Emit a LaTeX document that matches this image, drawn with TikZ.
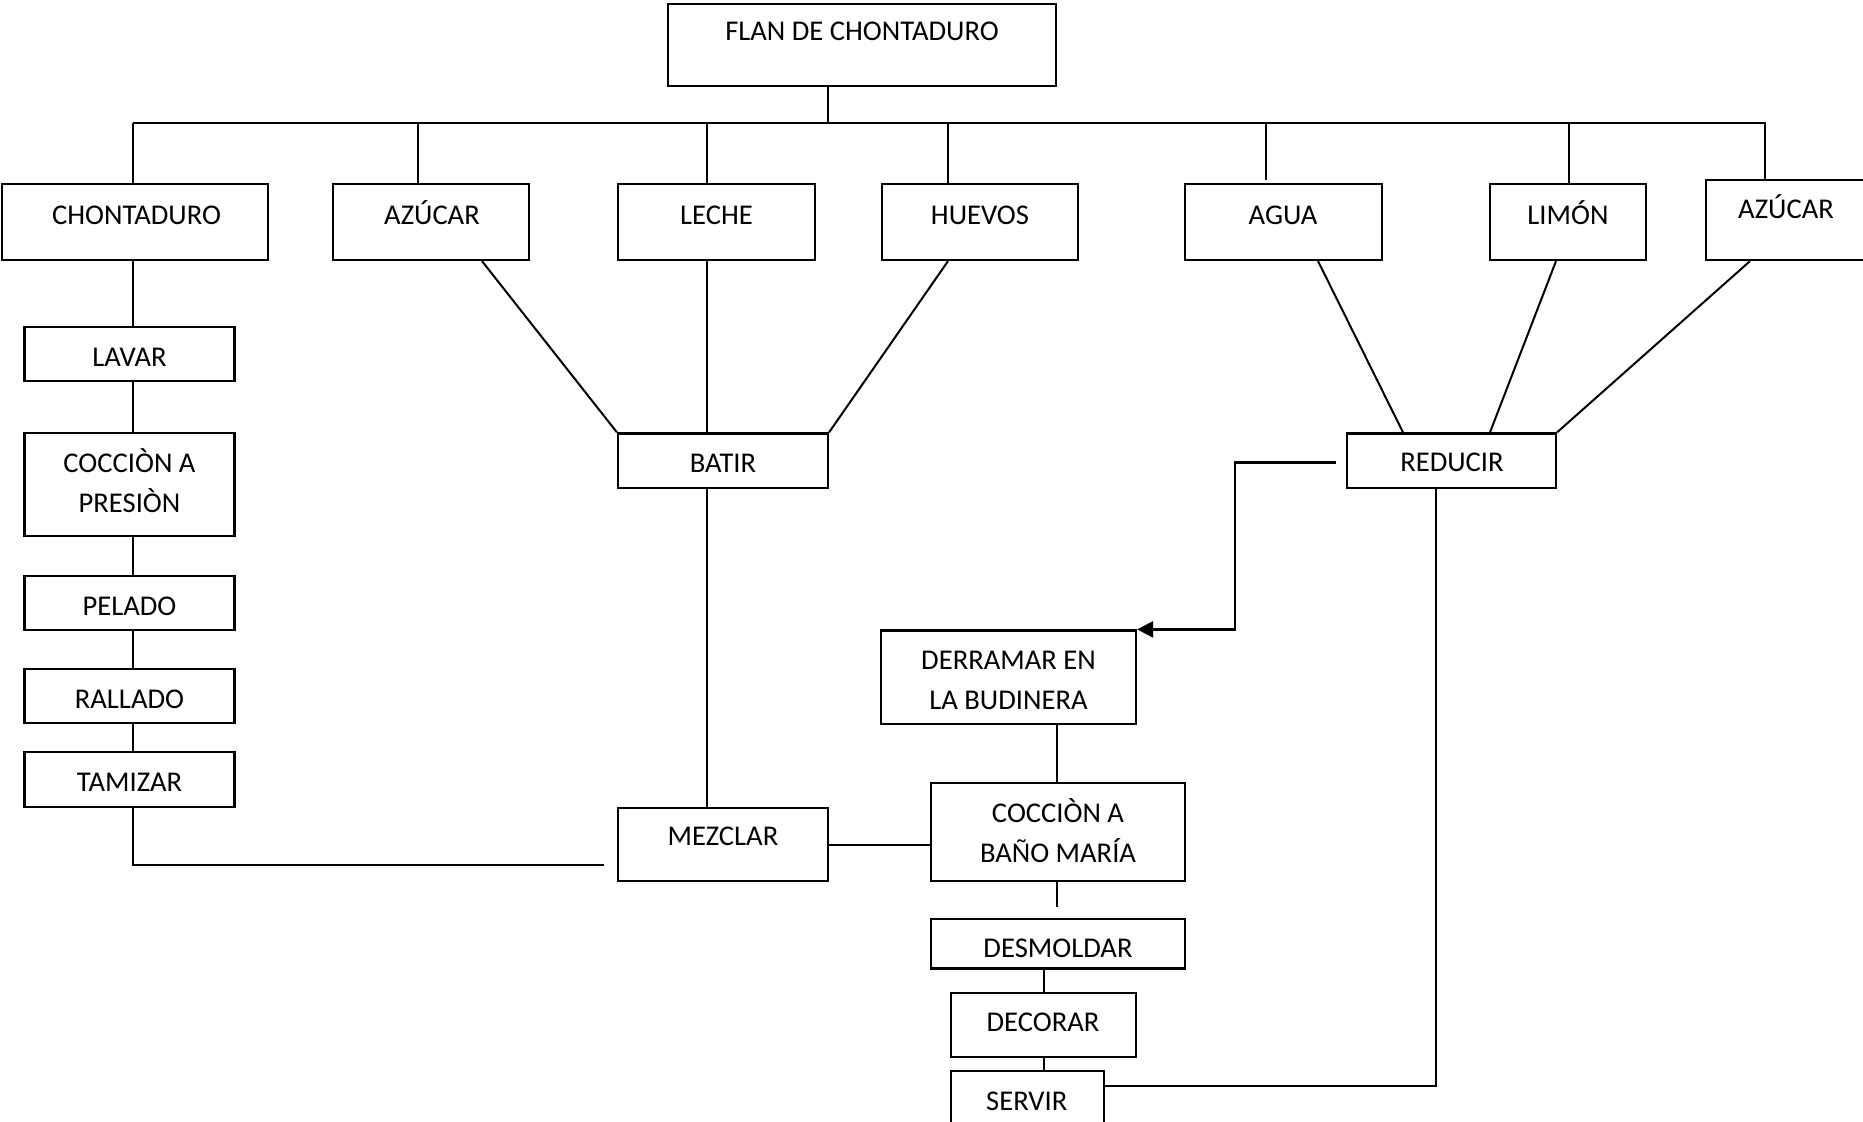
\documentclass[tikz,border=0pt]{standalone}
\usepackage{fontspec}
\setmainfont{Carlito}
\usetikzlibrary{fit,arrows.meta}

\tikzset{
  box/.style={draw, rectangle, line width=1.1pt, inner sep=0pt},
  lbl/.style={anchor=base, inner sep=0pt, font=\fontsize{14.3pt}{20pt}\selectfont},
  link/.style={line width=1pt},
}

% box given by its corners, one line of text placed by its baseline
\newcommand\flowbox[8]{%
  \node[box, fit={(#2,#3) (#4,#5)}] (#1) {};
  \node[lbl] (#1-t) at (#6,#7) {#8};}
% same with two lines of text
\newcommand\flowboxtwo[9]{%
  \node[box, fit={(#2,#3) (#4,#5)}] (#1) {};
  \node[lbl] (#1-t) at (#6,#7) {#8};
  \node[lbl] (#1-u) at (#6,#7+40.7) {#9};}

\begin{document}
\begin{tikzpicture}[x=0.5pt,y=-0.5pt]
\useasboundingbox (0,0) rectangle (1863,1121);

% title and ingredients
\flowbox{root}{668}{4}{1056}{86}{862}{40.7}{FLAN DE CHONTADURO}
\flowbox{chonta}{2}{184}{268}{260}{136.6}{224}{CHONTADURO}
\flowbox{azucarA}{333}{184}{529}{260}{432}{224}{AZÚCAR}
\flowbox{leche}{618}{184}{815}{260}{716.5}{224}{LECHE}
\flowbox{huevos}{882}{184}{1078}{260}{980}{224}{HUEVOS}
\flowbox{agua}{1185}{184}{1382}{260}{1283}{224}{AGUA}
\flowbox{limon}{1490}{184}{1646}{260}{1568}{224}{LIMÓN}
\flowbox{azucarB}{1706}{179.7}{1880}{260}{1786}{218}{AZÚCAR}

% preparation of the fruit
\flowbox{lavar}{24.5}{327}{234.5}{381}{129.5}{366}{LAVAR}
\flowboxtwo{cocA}{24.5}{433}{234.5}{536}{129.5}{472}{COCCIÒN A}{PRESIÒN}
\flowbox{pelado}{24.5}{576}{234.5}{630}{129.5}{615}{PELADO}
\flowbox{rallado}{24.5}{669}{234.5}{723}{129.5}{708}{RALLADO}
\flowbox{tamizar}{24.5}{752}{234.5}{807}{129.5}{791.6}{TAMIZAR}

% mixing, baking and serving
\flowbox{batir}{618}{433.4}{828}{487.7}{723}{472}{BATIR}
\flowbox{mezclar}{618}{807.7}{828}{881}{723}{845.5}{MEZCLAR}
\flowboxtwo{derramar}{881}{630.5}{1136}{724}{1008.5}{669}{DERRAMAR EN}{LA BUDINERA}
\flowboxtwo{cocB}{931}{783}{1185}{881}{1058}{822}{COCCIÒN A}{BAÑO MARÍA}
\flowbox{desmoldar}{931}{918.8}{1185}{968.4}{1058}{957.5}{DESMOLDAR}
\flowbox{decorar}{951}{993}{1136}{1056.7}{1043}{1031}{DECORAR}
\flowbox{servir}{951}{1071}{1104}{1135}{1026.8}{1110}{SERVIR}

% caramel
\flowbox{reducir}{1347}{433.4}{1556}{487.7}{1452}{471.7}{REDUCIR}

% branching bus under the title
\coordinate (busL) at (133,122.7);
\coordinate (busR) at (1766,122.7);
\draw[link] (busL) -- (busR);
\draw[link] (root.south -| 828,0) -- (busL -| 828,0);
\draw[link] (busL) -- (chonta.north -| busL);
\foreach \n/\x in {azucarA/418, leche/707, huevos/948, limon/1569, azucarB/1765}
  \draw[link] (\x,122.7) -- (\n.north -| \x,0);
\coordinate (aguaStub) at (1266,180);
\draw[link] (aguaStub |- busL) -- (aguaStub);

% fruit chain
\foreach \a/\b in {chonta/lavar, lavar/cocA, cocA/pelado, pelado/rallado, rallado/tamizar}
  \draw[link] (\a.south -| 133,0) -- (\b.north -| 133,0);
\coordinate (mixIn) at (604,865);
\draw[link] (tamizar.south -| 133,0) |- (mixIn);

% beating
\draw[link] (azucarA.south -| 482,0) -- (batir.north west);
\draw[link] (leche.south -| 707,0) -- (batir.north -| 707,0);
\draw[link] (huevos.south -| 948,0) -- (batir.north east);
\draw[link] (batir.south -| 707,0) -- (mezclar.north -| 707,0);
\draw[link] (mezclar.east |- 0,844.6) -- (cocB.west |- 0,844.6);

% baking chain
\draw[link] (derramar.south -| 1057,0) -- (cocB.north -| 1057,0);
\coordinate (cocStub) at (1057,907);
\draw[link] (cocB.south -| cocStub) -- (cocStub);
\draw[link] (desmoldar.south -| 1044,0) -- (decorar.north -| 1044,0);
\draw[link] (decorar.south -| 1044,0) -- (servir.north -| 1044,0);
\draw[link] (servir.east |- 0,1085.6) -| (reducir.south -| 1436,0);

% reduction
\draw[link] (agua.south -| 1318,0) -- (reducir.north -| 1403,0);
\draw[link] (limon.south -| 1556,0) -- (reducir.north -| 1490,0);
\draw[link] (azucarB.south -| 1750,0) -- (reducir.north east);
\coordinate (redOut) at (1336,462.7);
\draw[link, line width=1.3pt, -{Triangle[length=8pt,width=8pt]}]
  (redOut) -| (derramar.north east -| 1235,0) -- (derramar.north east);
\end{tikzpicture}
\end{document}
